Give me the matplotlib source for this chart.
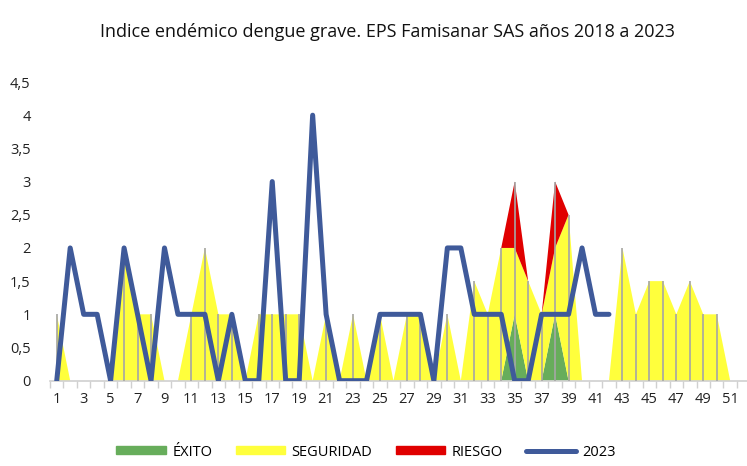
import numpy as np
import matplotlib
matplotlib.use("Agg")
import matplotlib.pyplot as plt
from matplotlib.ticker import FuncFormatter, MultipleLocator
from matplotlib.patches import Patch
from matplotlib.lines import Line2D

# Data
semanas = list(range(1, 53))
exito = [0] * 34 + [1, 0, 0, 1] + [0] * 14
seguridad = [1, 0, 0, 0, 0, 2, 1, 1, 0, 0, 1, 2, 1, 1, 0, 1, 1, 1, 1, 0,
             1, 0, 1, 0, 1, 0, 1, 1, 0, 1, 0, 1.5, 1, 2, 1, 1.5, 1, 1, 2.5, 0,
             0, 0, 2, 1, 1.5, 1.5, 1, 1.5, 1, 1, 0, 0]
riesgo = [0] * 34 + [1, 0, 0, 1] + [0] * 14
casos_2023 = [0, 2, 1, 1, 0, 2, 1, 0, 2, 1, 1, 1, 0, 1, 0, 0, 3, 0, 0, 4,
              1, 0, 0, 0, 1, 1, 1, 1, 0, 2, 2, 1, 1, 1, 0, 0, 1, 1, 1, 2,
              1, 1]

plt.rcParams['font.family'] = ['Open Sans', 'DejaVu Sans']

fig = plt.figure(figsize=(7.47, 4.66), dpi=100)
ax = fig.add_axes([50 / 747, 85.3 / 466, 700.4 / 747, 298.7 / 466])

x = np.array(semanas)
ax.stackplot(x, exito, seguridad, riesgo,
             colors=['#67AD5B', '#FFFF3C', '#E00000'], linewidth=0)

# drop lines
total = np.array(exito) + np.array(seguridad) + np.array(riesgo)
ax.vlines(x, 0, total, color='#A6A6A6', lw=1.2, zorder=3)

ax.plot(np.arange(1, len(casos_2023) + 1), casos_2023, color='#3F5A9A',
        lw=3.6, solid_joinstyle='round', solid_capstyle='round', zorder=4)

ax.set_xlim(0.5, 52.5)
ax.set_ylim(0, 4.5)

ax.set_xticks(np.arange(1, 53, 2))
ax.set_xticks(np.arange(0.5, 53, 1), minor=True)
ax.tick_params(axis='x', which='major', length=0, pad=8, labelsize=10.5,
               labelcolor='#222222')
ax.tick_params(axis='x', which='minor', length=5, width=1, color='#D0D0D0')
ax.yaxis.set_major_locator(MultipleLocator(0.5))
ax.yaxis.set_major_formatter(FuncFormatter(
    lambda v, p: ('%g' % v).replace('.', ',')))
ax.tick_params(axis='y', length=0, pad=14, labelsize=10.5, labelcolor='#222222')

for s in ['top', 'right', 'left']:
    ax.spines[s].set_visible(False)
ax.spines['bottom'].set_color('#D0D0D0')
ax.spines['bottom'].set_linewidth(1.2)

fig.text(0.519, 0.931, 'Indice endémico dengue grave. EPS Famisanar SAS años 2018 a 2023',
         ha='center', va='center', fontsize=13, color='#111111')

handles = [Patch(color='#67AD5B'), Patch(color='#FFFF3C'), Patch(color='#E00000'),
           Line2D([], [], color='#3F5A9A', lw=3.6, solid_capstyle='round')]
labels = ['ÉXITO', 'SEGURIDAD', 'RIESGO', '2023']
fig.legend(handles, labels, loc='center', bbox_to_anchor=(0.49, 0.03), ncol=4,
           frameon=False, fontsize=10.5, handlelength=3.4, handleheight=0.5,
           columnspacing=1.6, handletextpad=0.45)

fig.savefig('out.png', dpi=100)
